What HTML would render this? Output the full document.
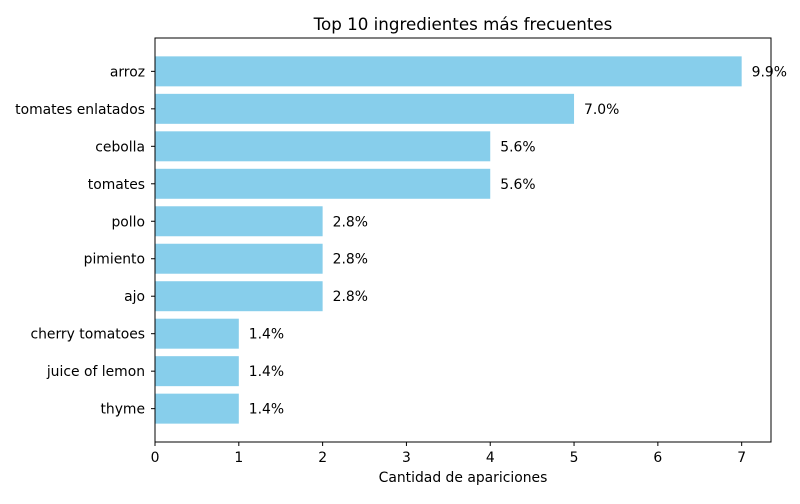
<!DOCTYPE html>
<html><head><meta charset="utf-8"><style>
body{margin:0;background:#fff;font-family:"DejaVu Sans","Liberation Sans",sans-serif;}
svg text{font-family:"DejaVu Sans","Liberation Sans",sans-serif;}
</style></head><body>
<svg id="chart" width="800" height="500" xmlns="http://www.w3.org/2000/svg"></svg>
<script>
const categories=["arroz","tomates enlatados","cebolla","tomates","pollo","pimiento","ajo","cherry tomatoes","juice of lemon","thyme"];
const values=[7,5,4,4,2,2,2,1,1,1];
const pctLabels=["9.9%","7.0%","5.6%","5.6%","2.8%","2.8%","2.8%","1.4%","1.4%","1.4%"];
const xTicks=[0,1,2,3,4,5,6,7];
const svg=document.getElementById('chart');
const NS='http://www.w3.org/2000/svg';
const L=155,R=771,T=38,B=442;
const xmax=Math.max(...values)*1.05;
const x=v=>L+(R-L)*v/xmax;
const n=categories.length;
const ymin=-0.4-0.49,ymax=n-1+0.4+0.49;
const y=i=>T+(B-T)*(i-ymin)/(ymax-ymin);
function mk(tag,attrs,txt){const e=document.createElementNS(NS,tag);for(const k in attrs)e.setAttribute(k,attrs[k]);if(txt!==undefined)e.textContent=txt;svg.appendChild(e);return e;}
categories.forEach((c,i)=>{
  const b=mk('rect',{x:x(0),y:y(i-0.4),width:x(values[i])-x(0),height:y(i+0.4)-y(i-0.4),fill:'#87ceeb'});
  
  
  const t=mk('text',{x:x(values[i])+10,y:y(i)+5,'font-size':'13.9',fill:'#000'},pctLabels[i]);
  
  
  mk('line',{x1:L-4,x2:L,y1:y(i),y2:y(i),stroke:'#000','stroke-width':1});
  const yl=mk('text',{x:L-10,y:y(i)+5,'font-size':'13.9','text-anchor':'end'},c);
  
  
});
xTicks.forEach(v=>{
  mk('line',{x1:x(v),x2:x(v),y1:B,y2:B+4,stroke:'#000','stroke-width':1});
  const t=mk('text',{x:x(v),y:B+20,'font-size':'13.9','text-anchor':'middle'},String(v));
  
  
});
const fr=mk('rect',{x:L,y:T,width:R-L,height:B-T,fill:'none',stroke:'#000','stroke-width':1});


const xt=mk('text',{x:(L+R)/2,y:482,'font-size':'13.9','text-anchor':'middle'},'Cantidad de apariciones');


const tt=mk('text',{x:(L+R)/2,y:30,'font-size':'16.7','text-anchor':'middle'},'Top 10 ingredientes más frecuentes');


</script>
</body></html>
